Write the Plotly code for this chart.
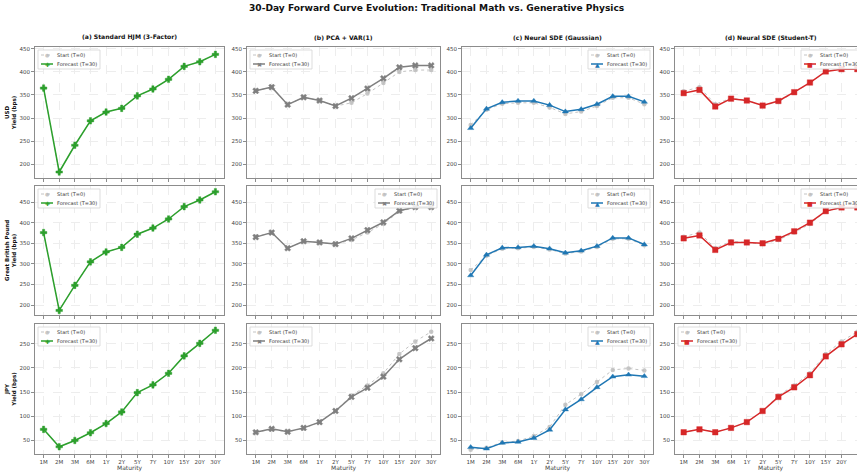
import plotly.graph_objects as go

maturities = ["1M", "2M", "3M", "6M", "1Y", "2Y", "5Y", "7Y", "10Y", "15Y", "20Y", "30Y"]
currencies = ["USD", "Great British Pound", "JPY"]
model_titles = ["(a) Standard HJM (3-Factor)", "(b) PCA + VAR(1)",
                "(c) Neural SDE (Gaussian)", "(d) Neural SDE (Student-T)"]
series_names = ["Start (T=0)", "Forecast (T=30)"]

# ---- USD ----
usd_hjm_start = [365, 183, 241, 294, 313, 321, 348, 363, 384, 412, 422, 438]
usd_hjm_fc = [365, 183, 241, 294, 313, 321, 348, 363, 384, 412, 422, 438]
usd_pca_start = [359, 367, 329, 345, 338, 326, 333, 353, 376, 400, 404, 404]
usd_pca_fc = [359, 367, 329, 345, 338, 326, 343, 364, 386, 410, 414, 414]
usd_gau_start = [285, 318, 331, 333, 333, 323, 309, 314, 326, 344, 344, 330]
usd_gau_fc = [278, 320, 334, 337, 337, 328, 314, 319, 330, 347, 347, 335]
usd_stt_start = [358, 367, 330, 343, 339, 327, 335, 355, 376, 401, 406, 406]
usd_stt_fc = [354, 361, 325, 342, 338, 327, 337, 356, 377, 401, 406, 406]

# ---- GBP ----
gbp_hjm_start = [376, 187, 248, 305, 329, 340, 372, 387, 409, 439, 455, 475]
gbp_hjm_fc = [376, 187, 248, 305, 329, 340, 372, 387, 409, 439, 455, 475]
gbp_pca_start = [366, 376, 338, 355, 352, 348, 358, 376, 397, 427, 437, 437]
gbp_pca_fc = [365, 376, 338, 355, 352, 348, 362, 382, 401, 429, 438, 438]
gbp_gau_start = [285, 320, 337, 338, 341, 335, 325, 330, 341, 361, 361, 345]
gbp_gau_fc = [272, 322, 339, 340, 343, 337, 327, 332, 343, 363, 363, 347]
gbp_stt_start = [366, 376, 338, 355, 352, 348, 358, 376, 397, 427, 437, 437]
gbp_stt_fc = [362, 369, 334, 352, 352, 350, 361, 379, 400, 428, 437, 437]

# ---- JPY ----
jpy_hjm_start = [73, 37, 50, 66, 85, 109, 149, 165, 189, 225, 251, 278]
jpy_hjm_fc = [73, 37, 50, 66, 85, 109, 149, 165, 189, 225, 251, 278]
jpy_pca_start = [67, 73, 68, 75, 88, 111, 143, 164, 189, 229, 255, 275]
jpy_pca_fc = [67, 74, 68, 76, 88, 111, 140, 159, 182, 218, 241, 261]
jpy_gau_start = [31, 35, 46, 49, 59, 78, 124, 146, 171, 196, 199, 195]
jpy_gau_fc = [36, 33, 45, 47, 55, 72, 114, 135, 160, 182, 186, 183]
jpy_stt_start = [67, 73, 68, 75, 88, 111, 143, 164, 189, 229, 255, 275]
jpy_stt_fc = [67, 73, 67, 76, 88, 111, 140, 160, 185, 224, 249, 270]

starts = [[usd_hjm_start, usd_pca_start, usd_gau_start, usd_stt_start],
          [gbp_hjm_start, gbp_pca_start, gbp_gau_start, gbp_stt_start],
          [jpy_hjm_start, jpy_pca_start, jpy_gau_start, jpy_stt_start]]
forecasts = [[usd_hjm_fc, usd_pca_fc, usd_gau_fc, usd_stt_fc],
             [gbp_hjm_fc, gbp_pca_fc, gbp_gau_fc, gbp_stt_fc],
             [jpy_hjm_fc, jpy_pca_fc, jpy_gau_fc, jpy_stt_fc]]

model_colors = ["#2ca02c", "#7f7f7f", "#1f77b4", "#d62728"]
model_symbols = ["cross", "x", "triangle-up", "square"]
model_glyphs = ["\u271A", "\u2716", "\u25B2", "\u25A0"]
legend_side = [["l", "l", "r", "r"], ["l", "r", "r", "r"], ["l", "l", "r", "l"]]
ytick_sets = [[200, 250, 300, 350, 400, 450], [200, 250, 300, 350, 400, 450],
              [50, 100, 150, 200, 250]]
yranges = [[170, 454], [176, 489], [22, 291]]

W, H = 857, 475
col_px = [(35, 224), (247, 440), (462, 653), (675, 866)]
row_px = [(47, 178), (186, 315), (324, 454)]
FONT = "DejaVu Sans"
START_LINE = "rgba(175,175,175,0.75)"
START_MARK = "rgba(185,185,185,0.8)"


def px(x):
    return x / W


def py(y):
    return 1 - y / H


fig = go.Figure()
layout = dict(width=W, height=H, margin=dict(l=0, r=0, t=0, b=0, autoexpand=False),
              paper_bgcolor="white", plot_bgcolor="white", showlegend=False,
              font=dict(family=FONT, size=6, color="#333"))
annotations = [dict(text="<b>30-Day Forward Curve Evolution: Traditional Math vs. Generative Physics</b>",
                    x=px(437), y=py(8), xref="paper", yref="paper", xanchor="center",
                    yanchor="middle", showarrow=False, font=dict(size=9.1, color="#111"))]
shapes = []

for r in range(3):
    for c in range(4):
        k = r * 4 + c + 1
        xs = "" if k == 1 else str(k)
        x0, x1 = col_px[c]
        y0, y1 = row_px[r]
        xdom = [px(x0), min(px(x1), 1.0)]
        ydom = [py(y1), py(y0)]
        pxu = (x1 - x0) / 12.1
        xmax = -0.55 + (min(x1, W) - x0) / pxu
        fig.add_trace(go.Scatter(x=maturities, y=starts[r][c], mode="lines+markers",
                                 name=series_names[0], xaxis="x" + xs, yaxis="y" + xs,
                                 line=dict(color=START_LINE, width=1, dash="dot"),
                                 marker=dict(symbol="circle", size=4.5, color=START_MARK)))
        fig.add_trace(go.Scatter(x=maturities, y=forecasts[r][c], mode="lines+markers",
                                 name=series_names[1], xaxis="x" + xs, yaxis="y" + xs,
                                 line=dict(color=model_colors[c], width=1.5),
                                 marker=dict(symbol=model_symbols[c], size=5.5, color=model_colors[c],
                                             line=dict(width=0.4, color=model_colors[c]))))
        layout["xaxis" + xs] = dict(domain=xdom, anchor="y" + xs, type="category",
                                    categoryorder="array", categoryarray=maturities,
                                    range=[-0.55, xmax], showline=True, mirror=True,
                                    linecolor="#8c8c8c", linewidth=1, ticks="outside", ticklen=2.5,
                                    tickcolor="#8c8c8c", showgrid=True, gridcolor="#ededed",
                                    griddash="dash", gridwidth=0.6, zeroline=False,
                                    showticklabels=(r == 2), tickfont=dict(size=5.5, color="#444"),
                                    automargin=False)
        ytitle = "<b>%s<br>Yield (bps)</b>" % currencies[r] if c == 0 else ""
        layout["yaxis" + xs] = dict(domain=ydom, anchor="x" + xs, range=yranges[r],
                                    tickvals=ytick_sets[r], showline=True, mirror=True,
                                    linecolor="#8c8c8c", linewidth=1, ticks="outside", ticklen=3,
                                    tickcolor="#8c8c8c", showgrid=True, gridcolor="#ededed",
                                    griddash="dash", gridwidth=0.6, zeroline=False,
                                    tickfont=dict(size=5.5, color="#444"), automargin=False,
                                    title=dict(text=ytitle, standoff=2,
                                               font=dict(size=5.5, color="#111")))
        if r == 2:
            annotations.append(dict(text="Maturity", x=px((x0 + min(x1, W + 9)) / 2), y=py(468),
                                    xref="paper", yref="paper", xanchor="center", yanchor="middle",
                                    showarrow=False, borderpad=0, font=dict(size=6, color="#444")))
        # compact legend box, drawn like the matplotlib one
        lw, lh = 62, 19
        bx0 = x0 + 3 if legend_side[r][c] == "l" else x1 - 3 - lw
        by0 = y0 + 3
        shapes.append(dict(type="rect", xref="paper", yref="paper", x0=px(bx0), x1=px(bx0 + lw),
                           y0=py(by0 + lh), y1=py(by0), fillcolor="rgba(255,255,255,0.85)",
                           line=dict(color="#d4d4d4", width=0.8), layer="above"))
        rows_y = [by0 + 5, by0 + 14]
        styles = [(START_LINE, 1, "dot", "\u25CF", START_MARK, 5),
                  (model_colors[c], 1.5, "solid", model_glyphs[c], model_colors[c], 6)]
        for (ly, st, name) in zip(rows_y, styles, series_names):
            lcol, lwid, ldash, glyph, gcol, gsize = st
            shapes.append(dict(type="line", xref="paper", yref="paper", x0=px(bx0 + 3),
                               x1=px(bx0 + 15), y0=py(ly), y1=py(ly),
                               line=dict(color=lcol, width=lwid, dash=ldash), layer="above"))
            annotations.append(dict(text=glyph, x=px(bx0 + 9), y=py(ly), xref="paper", yref="paper",
                                    xanchor="center", yanchor="middle", showarrow=False,
                                    font=dict(size=gsize, color=gcol)))
            annotations.append(dict(text=name, x=px(bx0 + 17), y=py(ly), xref="paper", yref="paper",
                                    xanchor="left", yanchor="middle", showarrow=False,
                                    font=dict(size=5, color="#333")))
        if r == 0:
            annotations.append(dict(text="<b>%s</b>" % model_titles[c], x=px((x0 + x1) / 2),
                                    y=py(y0 - 4), xref="paper", yref="paper",
                                    xanchor="center", yanchor="bottom", showarrow=False,
                                    font=dict(size=6.1, color="#111")))

layout["annotations"] = annotations
layout["shapes"] = shapes
fig.update_layout(**layout)
fig.write_html("out.html", config={"displayModeBar": False},
               post_script="document.body.style.margin='0';document.body.style.overflow='hidden';")
